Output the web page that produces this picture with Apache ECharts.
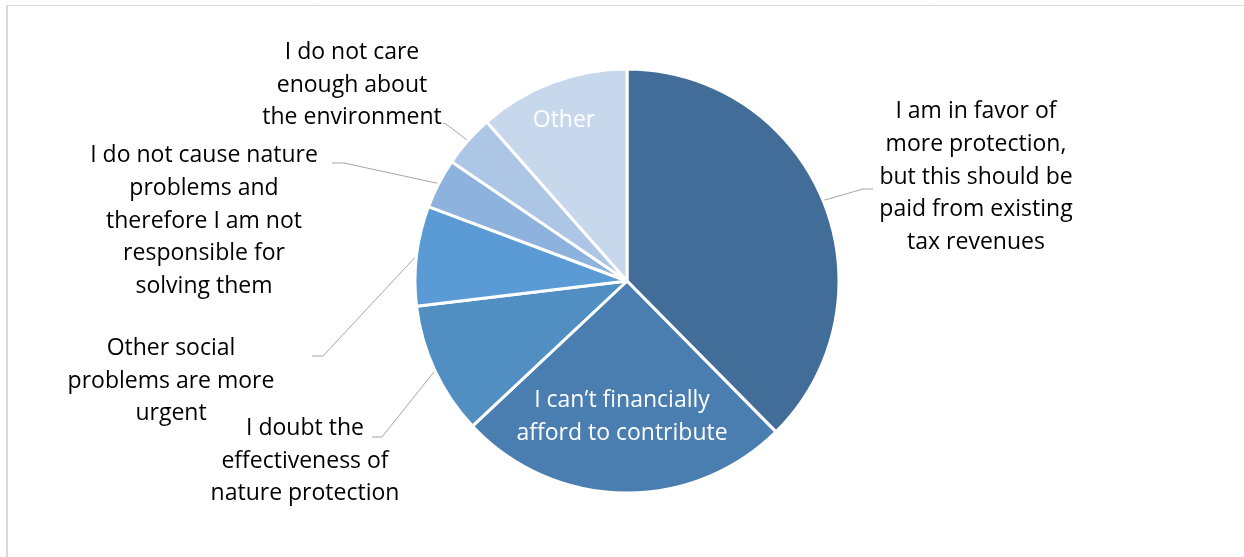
<!DOCTYPE html>
<html>
<head>
<meta charset="utf-8">
<script src="https://cdn.jsdelivr.net/npm/echarts@6/dist/echarts.min.js"></script>
<style>
  html, body { margin: 0; padding: 0; background: #fff; }
  #chart { width: 1244px; height: 557px; }
</style>
</head>
<body>
<div id="chart"></div>
<script>
// Reasons given for not paying more towards nature protection (share of answers, %)
const categories = [
  'I am in favor of\nmore protection,\nbut this should be\npaid from existing\ntax revenues',
  'I can\u2019t financially\nafford to contribute',
  'I doubt the\neffectiveness of\nnature protection',
  'Other social\nproblems are more\nurgent',
  'I do not cause nature\nproblems and\ntherefore I am not\nresponsible for\nsolving them',
  'I do not care\nenough about\nthe environment',
  'Other'
];
const shares = [37.6, 25.4, 10.1, 7.6, 3.8, 4.0, 11.5];
const sliceColors = ['#416d98', '#4a7eb0', '#518ec2', '#5b9bd5', '#8cb2dd', '#adc6e6', '#c7d7ec'];
const insideLabel = [false, true, false, false, false, false, true];

// Where each label block is centred, and where its leader line turns and ends
const labelCentres = [[976, 177], [622, 417], [305, 461], [171, 381], [204, 221], [352, 85], [564, 120]];
const leaderEnds = [
  [[863, 189], [873, 189]],
  null,
  [[382, 437], [372, 437]],
  [[323, 356], [312, 356]],
  [[344, 163], [332, 163]],
  [[446, 124], [443, 123]],
  null
];

const chart = echarts.init(document.getElementById('chart'), null, { renderer: 'canvas' });

const data = categories.map((name, i) => ({
  name,
  value: shares[i],
  itemStyle: { color: sliceColors[i] },
  label: { color: insideLabel[i] ? '#ffffff' : '#000000' },
  labelLine: { show: !insideLabel[i] }
}));

chart.setOption({
  animation: false,
  backgroundColor: '#ffffff',
  graphic: [
    { type: 'line', shape: { x1: 6, y1: 5.5, x2: 1244, y2: 5.5 }, style: { stroke: '#d9d9d9', lineWidth: 1 } },
    { type: 'line', shape: { x1: 7, y1: 5, x2: 7, y2: 557 }, style: { stroke: '#d9d9d9', lineWidth: 2 } }
  ],
  series: [{
    type: 'pie',
    center: [627, 281],
    radius: 212,
    startAngle: 90,
    clockwise: true,
    avoidLabelOverlap: false,
    data,
    itemStyle: { borderColor: '#ffffff', borderWidth: 3 },
    label: {
      show: true,
      position: 'outside',
      fontFamily: '"Open Sans", "Noto Sans", sans-serif',
      fontSize: 23,
      lineHeight: 32.6,
      align: 'center'
    },
    labelLine: {
      show: true,
      length: 10,
      length2: 10,
      lineStyle: { color: '#a6a6a6', width: 1 }
    },
    emphasis: { disabled: true },
    labelLayout: function (params) {
      const i = params.dataIndex;
      const c = labelCentres[i];
      const out = { x: c[0], y: c[1], align: 'center', verticalAlign: 'middle', hideOverlap: false };
      if (leaderEnds[i] && params.labelLinePoints) {
        const start = params.labelLinePoints[0];
        out.labelLinePoints = [start, leaderEnds[i][0], leaderEnds[i][1]];
      }
      return out;
    }
  }]
});
</script>
</body>
</html>
